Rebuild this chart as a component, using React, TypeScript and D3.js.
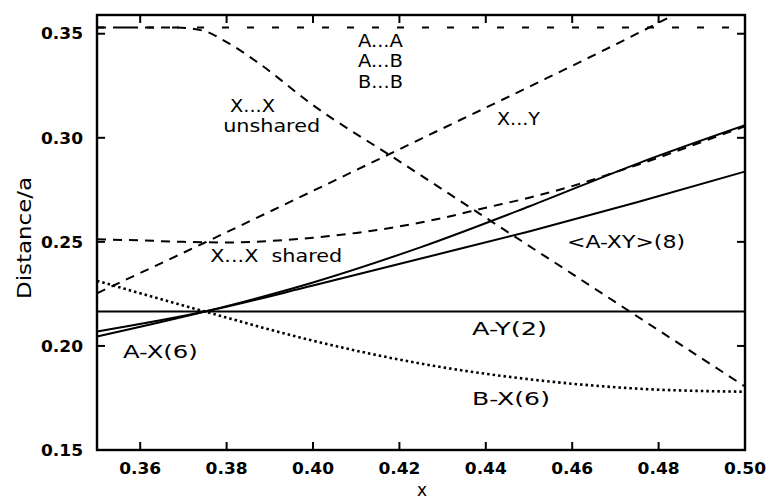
import React from 'react';
import * as d3 from 'd3';

// ---- data ----
const xGrid = [0.35, 0.375, 0.40, 0.425, 0.45, 0.475, 0.50];
const aX6 = [0.2045, 0.2165, 0.2305, 0.2475, 0.2670, 0.2875, 0.3060];
const aXY8 = [0.2069, 0.2165, 0.2290, 0.2420, 0.2550, 0.2690, 0.2838];
const aY2 = [0.2165, 0.2165, 0.2165, 0.2165, 0.2165, 0.2165, 0.2165];
const bX6 = [0.2313, 0.2165, 0.2025, 0.1915, 0.1840, 0.1795, 0.1780];

const aaX = [0.35, 0.50];
const aaY = [0.3530, 0.3530];

const xyX = [0.35, 0.375, 0.40, 0.425, 0.45, 0.475, 0.49];
const xyY = [0.2253, 0.2497, 0.2745, 0.2995, 0.3245, 0.3500, 0.3660];

const unsharedX = [0.35, 0.368, 0.3745, 0.380, 0.387, 0.40, 0.42, 0.44, 0.46, 0.48, 0.50];
const unsharedY = [0.3530, 0.3530, 0.3515, 0.3460, 0.3365, 0.3157, 0.2887, 0.2616, 0.2346, 0.2075, 0.1805];

const sharedX = [0.35, 0.36, 0.37, 0.38, 0.39, 0.40, 0.41, 0.42, 0.43, 0.44, 0.45, 0.46, 0.47, 0.48, 0.49, 0.50];
const sharedY = [0.2512, 0.2507, 0.2500, 0.2497, 0.2504, 0.2520, 0.2543, 0.2574, 0.2615, 0.2664, 0.2712, 0.2768, 0.2835, 0.2905, 0.2980, 0.3055];

const xTickValues = [0.36, 0.38, 0.40, 0.42, 0.44, 0.46, 0.48];
const xTickLabels = ['0.36', '0.38', '0.40', '0.42', '0.44', '0.46', '0.48', '0.50'];
const xLabelValues = [0.36, 0.38, 0.40, 0.42, 0.44, 0.46, 0.48, 0.50];
const yTickValues = [0.20, 0.25, 0.30, 0.35];
const yLabelValues = [0.15, 0.20, 0.25, 0.30, 0.35];
const yTickLabels = ['0.15', '0.20', '0.25', '0.30', '0.35'];

const annotationTexts = ['A...A', 'A...B', 'B...B', 'X...X', 'unshared', 'X...Y', 'X...X  shared', '<A-XY>(8)', 'A-Y(2)', 'B-X(6)', 'A-X(6)'];
const annotationX = [0.4104, 0.4104, 0.4104, 0.3808, 0.3792, 0.4426, 0.3762, 0.4588, 0.4368, 0.4368, 0.3560];
const annotationY = [0.3436, 0.3340, 0.3239, 0.3124, 0.3028, 0.3062, 0.2403, 0.2471, 0.2053, 0.1716, 0.1942];

const zip = (xs: number[], ys: number[]) => xs.map((v, i) => [v, ys[i]] as [number, number]);

export default function App() {
  const W = 778;
  const H = 499;
  const x = d3.scaleLinear().domain([0.35, 0.50]).range([97, 745]);
  const y = d3.scaleLinear().domain([0.15, 0.359]).range([450, 15]);
  const line = d3
    .line<[number, number]>()
    .x((d) => x(d[0]))
    .y((d) => y(d[1]))
    .curve(d3.curveMonotoneX);

  const series = [
    { pts: zip(aaX, aaY), dash: '7 18', w: 2 },
    { pts: zip(unsharedX, unsharedY), dash: '9 7', w: 2 },
    { pts: zip(xyX, xyY), dash: '9 7', w: 2 },
    { pts: zip(sharedX, sharedY), dash: '9 7', w: 2 },
    { pts: zip(xGrid, aY2), dash: undefined, w: 2 },
    { pts: zip(xGrid, aX6), dash: undefined, w: 2 },
    { pts: zip(xGrid, aXY8), dash: undefined, w: 2 },
    { pts: zip(xGrid, bX6), dash: '2.5 3', w: 2.6 },
  ];

  const labelWidths = [45, 45, 45, 45, 97, 43, 132, 118, 75, 78, 75];

  const [x0, x1] = x.range();
  const [y0, y1] = y.range();
  const font = '"DejaVu Sans", sans-serif';

  return (
    <div style={{ position: 'absolute', left: 0, top: 0 }}>
      <svg width={W} height={H} style={{ display: 'block', background: '#fff' }}>
        <defs>
          <clipPath id="plot">
            <rect x={x0} y={y1} width={x1 - x0} height={y0 - y1} />
          </clipPath>
        </defs>
        <g clipPath="url(#plot)" fill="none" stroke="#000">
          {series.map((s, i) => (
            <path key={i} d={line(s.pts) || ''} strokeWidth={s.w} strokeDasharray={s.dash} />
          ))}
        </g>
        {/* frame */}
        <rect x={x0} y={y1} width={x1 - x0} height={y0 - y1} fill="none" stroke="#000" strokeWidth={2.4} />
        {/* ticks */}
        {xTickValues.map((v, i) => (
          <g key={'xt' + i} stroke="#000" strokeWidth={2}>
            <line x1={x(v)} x2={x(v)} y1={y0} y2={y0 - 8} />
            <line x1={x(v)} x2={x(v)} y1={y1} y2={y1 + 8} />
          </g>
        ))}
        {yTickValues.map((v, i) => (
          <g key={'yt' + i} stroke="#000" strokeWidth={2}>
            <line x1={x0} x2={x0 + 8} y1={y(v)} y2={y(v)} />
            <line x1={x1} x2={x1 - 8} y1={y(v)} y2={y(v)} />
          </g>
        ))}
        {xLabelValues.map((v, i) => (
          <text
            key={'xl' + i}
            x={x(v)}
            y={474}
            textAnchor="middle"
            fontFamily={font}
            fontWeight="bold"
            fontSize={16}
            textLength={42}
            lengthAdjust="spacingAndGlyphs"
          >
            {xTickLabels[i]}
          </text>
        ))}
        {yLabelValues.map((v, i) => (
          <text
            key={'yl' + i}
            x={83}
            y={y(v)}
            dy="0.36em"
            textAnchor="end"
            fontFamily={font}
            fontWeight="bold"
            fontSize={16}
            textLength={42}
            lengthAdjust="spacingAndGlyphs"
          >
            {yTickLabels[i]}
          </text>
        ))}
        {annotationTexts.map((t, i) => (
          <text
            key={'an' + i}
            x={x(annotationX[i])}
            y={y(annotationY[i])}
            fontFamily={font}
            fontSize={17}
            textLength={labelWidths[i]}
            lengthAdjust="spacingAndGlyphs"
            style={{ whiteSpace: 'pre' }}
          >
            {t}
          </text>
        ))}
        <text
          transform={`translate(31,238) rotate(-90)`}
          textAnchor="middle"
          fontFamily={font}
          fontSize={19}
          textLength={122}
          lengthAdjust="spacingAndGlyphs"
        >
          Distance/a
        </text>
        <text x={422} y={496} textAnchor="middle" fontFamily={font} fontSize={17}>
          x
        </text>
      </svg>
    </div>
  );
}
